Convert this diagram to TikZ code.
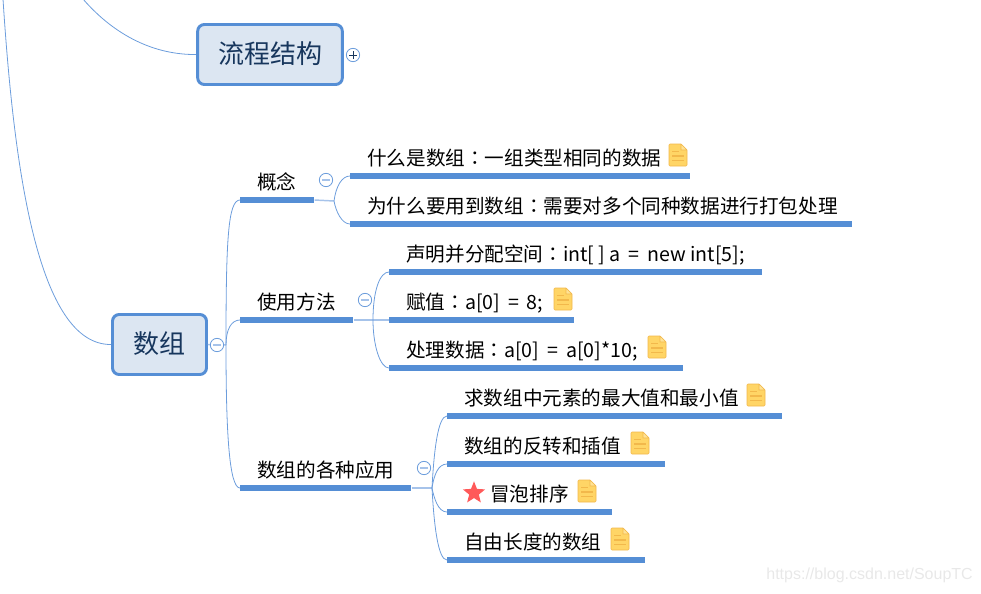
\documentclass[tikz,border=0pt]{standalone}
\usepackage{fontspec}
\usetikzlibrary{shapes.geometric}
\setmainfont{Noto Sans CJK SC}
\newfontfamily\tcfont{Noto Sans CJK TC}
\newfontfamily\wmfont{Liberation Sans}
\newcommand{\cc}{{\tcfont ：}}
\newcommand{\eqsp}{\hspace{5.9pt}=\hspace{5.9pt}}
\definecolor{mainblue}{HTML}{558ED5}
\definecolor{linkblue}{HTML}{6C9DDC}
\definecolor{stubblue}{HTML}{A6C3EA}
\definecolor{boxfill}{HTML}{DCE6F2}
\definecolor{boxtext}{HTML}{17365D}
\definecolor{notefill}{HTML}{FFD566}
\definecolor{noteline}{HTML}{F2B84B}
\tikzset{
  mainbox/.style={draw=mainblue,line width=2.2pt,fill=boxfill,rounded corners=5pt,text=boxtext,text height=16.5pt,text depth=3pt,font=\fontsize{19.5}{23}\selectfont,inner sep=0pt},
  topic/.style={anchor=west,inner sep=0pt,text=black,text height=13pt,text depth=2.5pt,font=\fontsize{14.7}{18}\selectfont},
  rule/.style={fill=mainblue,inner sep=0pt,minimum height=3.9pt,anchor=west},
  link/.style={draw=linkblue,line width=0.6pt},
  stub/.style={draw=stubblue,line width=1.1pt},
  fold/.style={circle,draw=linkblue,line width=0.6pt,fill=white,minimum size=10pt,inner sep=0pt},
  foldsign/.style={draw=#1,line width=1pt},
  notemark/.style={fill=notefill,draw=noteline,line width=0.4pt,rounded corners=0.8pt},
  noteinner/.style={draw=noteline,line width=1.1pt},
  pics/noteicon/.style={code={
    \path[notemark] (-9,-11)--(3,-11)--(9,-5)--(9,11)--(-9,11)--cycle;
    \path[fill=notefill!70!white,draw=noteline,line width=0.5pt] (3,-11)--(3,-5)--(9,-5)--cycle;
    \path[noteinner] (-6,-3.5)--(1,-3.5) (-6,1)--(6,1) (-6,5.5)--(6,5.5);
  }}
}
\begin{document}
\begin{tikzpicture}[x=0.75pt,y=-0.75pt]
\useasboundingbox (0,0) rectangle (981,593);
% central boxes
\node[mainbox,minimum width=108.5pt,minimum height=45pt] (flow) at (270,54.5) {流程结构};
\node[mainbox,minimum width=70.5pt,minimum height=45pt] (arr) at (159.5,344.5) {数组};
\coordinate (edgeA) at (83,-1);
\coordinate (edgeB) at (3,-1);
\draw[link] (edgeA) .. controls (115,36) and (155,55) .. (flow.west);
\draw[link] (edgeB) .. controls (14,170) and (38,345) .. (arr.west);
% level-2 rules
\node[rule,minimum width=55.5pt] (u1) at (240,200) {};
\node[rule,minimum width=84.75pt] (u2) at (240,320) {};
\node[rule,minimum width=128.25pt] (u3) at (240,488) {};
% level-3 rules
\node[rule,minimum width=255pt] (a1) at (350,176) {};
\node[rule,minimum width=376.5pt] (a2) at (350,224) {};
\node[rule,minimum width=279.75pt] (b1) at (389,272) {};
\node[rule,minimum width=138.75pt] (b2) at (389,320) {};
\node[rule,minimum width=220.5pt] (b3) at (389,368) {};
\node[rule,minimum width=251.25pt] (c1) at (447,416) {};
\node[rule,minimum width=163.5pt] (c2) at (447,464) {};
\node[rule,minimum width=123.75pt] (c3) at (447,512) {};
\node[rule,minimum width=148.5pt] (c4) at (447,560) {};
% branch points
\coordinate (ja) at (226,345);
\coordinate (j1) at (334,201);
\coordinate (j2) at (373,320);
\coordinate (j3) at (432,488);
% connectors
\draw[stub] (arr.east) -- (ja);
\draw[link] (ja) .. controls (226,240) and (228,200) .. (u1.west);
\draw[link] (ja) .. controls (226,330) and (231,320) .. (u2.west);
\draw[link] (ja) .. controls (226,430) and (229,488) .. (u3.west);
\draw[stub] (u1.east) -- (j1);
\draw[link] (j1) .. controls (336,186) and (342,176) .. (a1.west);
\draw[link] (j1) .. controls (336,212) and (342,224) .. (a2.west);
\draw[stub] (u2.east) -- (b2.west);
\draw[link] (j2) .. controls (373,290) and (380,272) .. (b1.west);
\draw[link] (j2) .. controls (373,345) and (380,368) .. (b3.west);
\draw[stub] (u3.east) -- (j3);
\draw[link] (j3) .. controls (434,450) and (438,416) .. (c1.west);
\draw[link] (j3) .. controls (434,475) and (438,464) .. (c2.west);
\draw[link] (j3) .. controls (434,498) and (438,512) .. (c3.west);
\draw[link] (j3) .. controls (434,525) and (438,560) .. (c4.west);
% fold markers
\node[fold] (f0) at (353,55) {};
\draw[draw=boxtext,line width=0.5pt] ([xshift=-3pt]f0.center) -- ([xshift=3pt]f0.center) ([yshift=-3pt]f0.center) -- ([yshift=3pt]f0.center);
\node[fold] (f1) at (217,345) {};
\node[fold] (f2) at (326,180) {};
\node[fold] (f3) at (365,300) {};
\node[fold] (f4) at (424,468) {};
\foreach \f in {f1,f2,f3,f4}{
  \draw[foldsign=stubblue] ([xshift=-3pt]\f.center) -- ([xshift=3pt]\f.center);
}
% labels
\node[topic] (t1) at (257,182) {概念};
\node[topic] (t2) at (257,302) {使用方法};
\node[topic] (t3) at (257,470) {数组的各种应用};
\node[topic] (ta1) at (367,158) {什么是数组\cc 一组类型相同的数据};
\node[topic] (ta2) at (367,206) {为什么要用到数组\cc 需要对多个同种数据进行打包处理};
\node[topic] (tb1) at (406,254) {声明并分配空间\cc int[ ] a\eqsp new int[5];};
\node[topic] (tb2) at (406,302) {赋值\cc a[0]\eqsp 8;};
\node[topic] (tb3) at (406,350) {处理数据\cc a[0]\eqsp a[0]*10;};
\node[topic] (tc1) at (464,398) {求数组中元素的最大值和最小值};
\node[topic] (tc2) at (464,446) {数组的反转和插值};
\node[topic] (tc3) at (490,494) {冒泡排序};
\node[topic] (tc4) at (464,542) {自由长度的数组};
\node[star,star points=5,star point ratio=2.3,fill=red!65!white,inner sep=0pt,minimum size=17.5pt] (starmark) at (474,493) {};
% note icons
\pic at (678,155) {noteicon};
\pic at (563,299) {noteicon};
\pic at (657,347) {noteicon};
\pic at (756,395) {noteicon};
\pic at (640,443) {noteicon};
\pic at (587,491) {noteicon};
\pic at (620,539) {noteicon};
% watermark
\node[anchor=east,inner sep=0pt,text=black!9,font=\wmfont\fontsize{12}{14}\selectfont] (wm) at (973,575) {https://blog.csdn.net/SoupTC};
\end{tikzpicture}
\end{document}
